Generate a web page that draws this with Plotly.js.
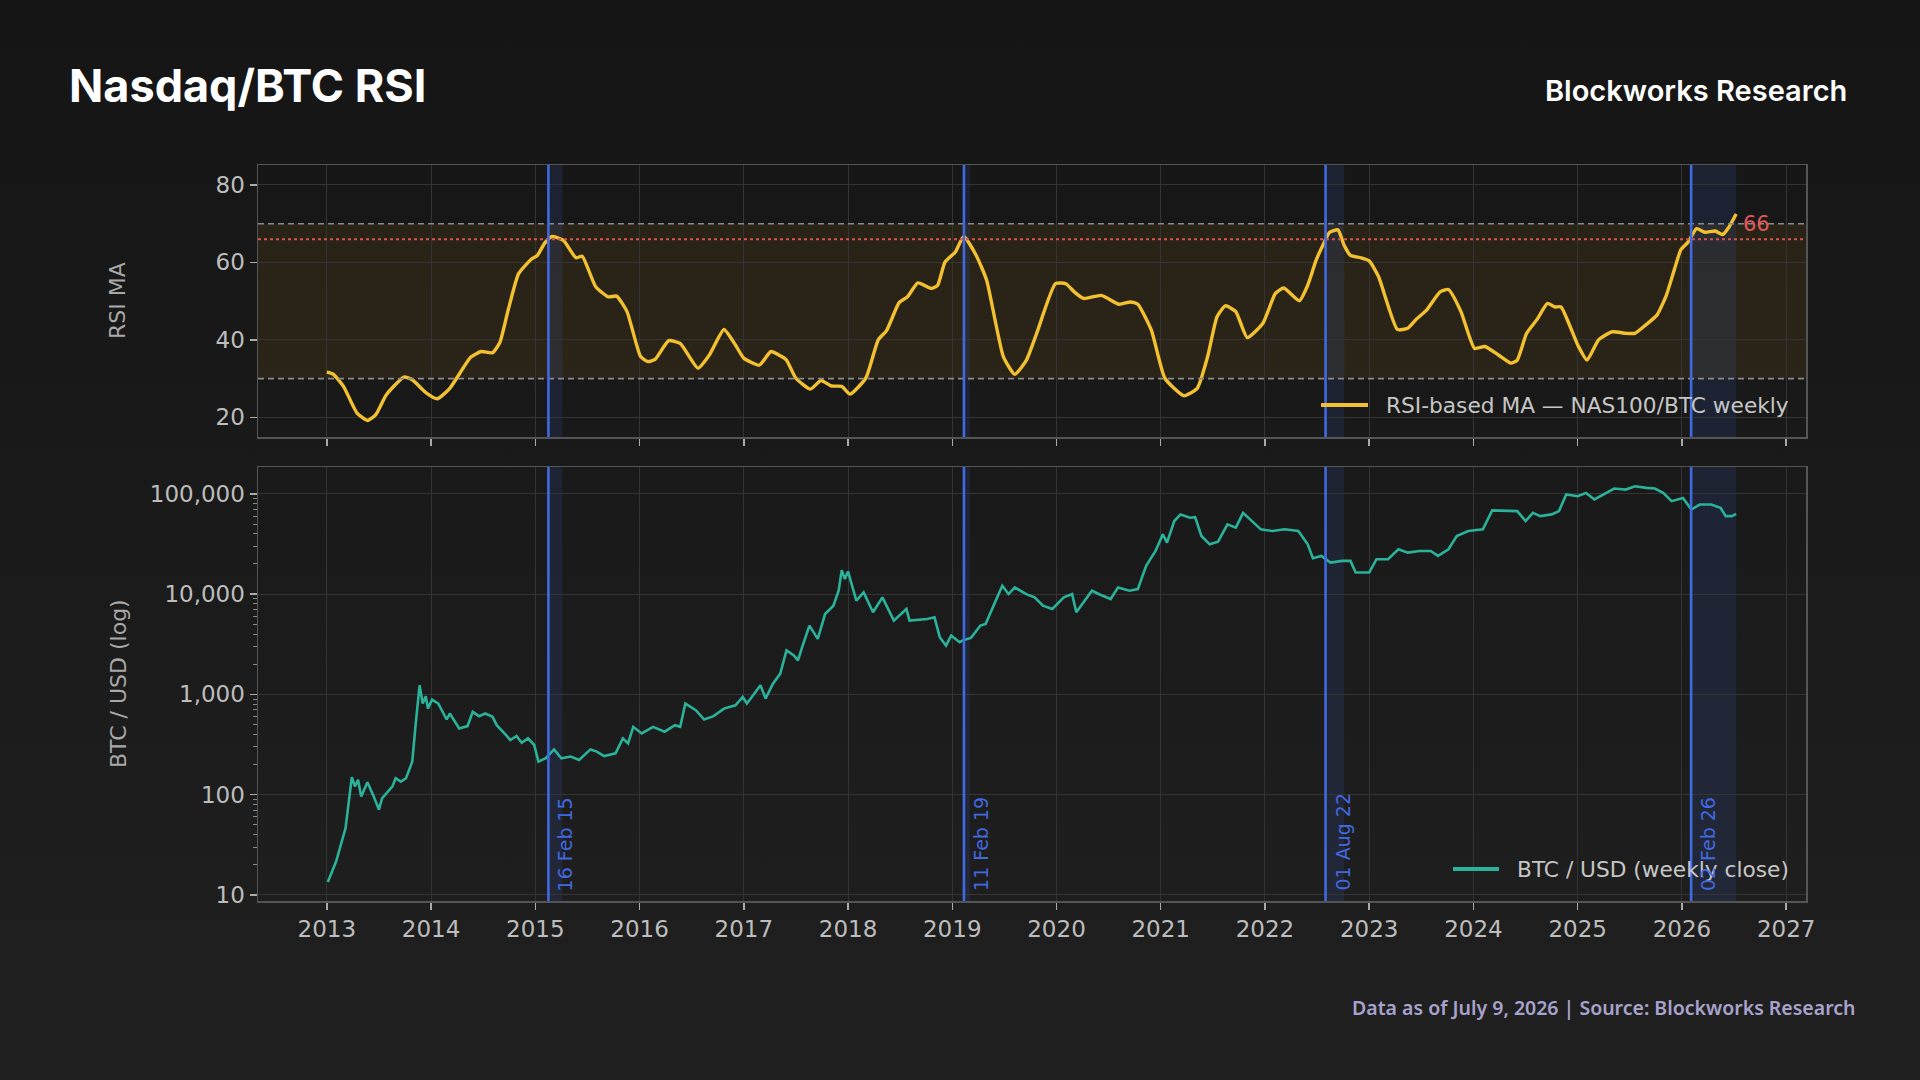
<!DOCTYPE html>
<html>
<head>
<meta charset="utf-8">
<script src="https://cdn.plot.ly/plotly-3.0.1.min.js"></script>
<style>
  html, body { margin: 0; padding: 0; }
  body { width: 1920px; height: 1080px; background: linear-gradient(180deg, #151515 0%, #1a1a1a 50%, #202020 100%); overflow: hidden; }
  #chart { width: 1920px; height: 1080px; }
</style>
</head>
<body>
<div id="chart"></div>
<script>
// ---------- DATA ----------
const yearTicks = [2013, 2014, 2015, 2016, 2017, 2018, 2019, 2020, 2021, 2022, 2023, 2024, 2025, 2026, 2027];

const rsiYears = [2013.00,2013.06,2013.16,2013.29,2013.39,2013.47,2013.57,2013.74,2013.82,2013.95,
  2014.06,2014.18,2014.38,2014.48,2014.59,2014.66,2014.74,2014.84,2014.97,2015.02,
  2015.09,2015.16,2015.27,2015.39,2015.45,2015.58,2015.70,2015.78,2015.88,2016.01,
  2016.08,2016.15,2016.28,2016.39,2016.56,2016.67,2016.81,2016.92,2017.00,2017.15,
  2017.26,2017.35,2017.41,2017.50,2017.64,2017.74,2017.84,2017.94,2018.02,2018.17,
  2018.29,2018.37,2018.49,2018.57,2018.67,2018.80,2018.86,2018.93,2019.03,2019.11,
  2019.23,2019.33,2019.49,2019.60,2019.71,2019.81,2019.99,2020.09,2020.17,2020.26,
  2020.43,2020.60,2020.71,2020.78,2020.91,2021.04,2021.22,2021.35,2021.45,2021.54,
  2021.62,2021.72,2021.83,2021.98,2022.10,2022.18,2022.33,2022.41,2022.49,2022.57,
  2022.62,2022.70,2022.76,2022.82,2022.92,2023.00,2023.09,2023.27,2023.37,2023.45,
  2023.55,2023.68,2023.76,2023.88,2024.01,2024.11,2024.24,2024.36,2024.42,2024.51,
  2024.61,2024.71,2024.78,2024.84,2025.00,2025.09,2025.20,2025.33,2025.46,2025.55,
  2025.65,2025.76,2025.85,2025.93,2025.99,2026.06,2026.14,2026.22,2026.32,2026.39,
  2026.45,2026.52];
const rsiValues = [31.7,31.2,28.0,21.1,19.2,20.7,25.8,30.4,29.7,26.4,
  24.8,27.5,35.5,37.0,36.7,39.3,47.7,57.1,61.0,61.8,
  65.0,66.7,65.7,61.2,61.6,53.7,51.1,51.3,47.3,35.7,
  34.4,35.0,39.8,39.1,32.7,36.1,42.7,38.7,35.3,33.5,
  37.0,35.9,34.8,30.1,27.3,29.5,28.1,28.0,26.0,30.1,
  40.0,42.4,49.6,51.1,54.7,53.3,54.1,60.1,62.7,66.7,
  61.8,55.4,35.7,31.1,34.7,41.7,54.5,54.5,52.4,50.7,
  51.5,49.2,49.8,49.2,42.5,30.1,25.6,27.5,35.7,46.0,
  48.8,47.3,40.6,44.3,52.0,53.4,50.1,54.1,60.5,65.3,
  67.8,68.4,64.4,61.8,61.2,60.4,56.3,42.7,43.0,45.3,
  47.7,52.4,53.0,47.3,37.8,38.3,36.1,34.0,34.8,41.7,
  45.3,49.4,48.5,48.5,38.7,34.8,40.0,42.1,41.7,41.7,
  43.8,46.4,51.5,58.4,63.3,65.3,68.7,67.8,68.1,67.2,
  69.1,72.5];

const btcYears = [2013.01,2013.09,2013.18,2013.24,2013.27,2013.30,2013.33,2013.39,2013.45,2013.50,
  2013.53,2013.63,2013.66,2013.71,2013.76,2013.82,2013.85,2013.89,2013.92,2013.95,
  2013.97,2014.01,2014.07,2014.15,2014.18,2014.27,2014.35,2014.40,2014.46,2014.52,
  2014.59,2014.63,2014.72,2014.76,2014.82,2014.87,2014.93,2014.99,2015.03,2015.10,
  2015.18,2015.25,2015.34,2015.42,2015.53,2015.59,2015.66,2015.77,2015.84,2015.89,
  2015.94,2016.02,2016.13,2016.24,2016.34,2016.39,2016.44,2016.54,2016.62,2016.71,
  2016.81,2016.92,2016.99,2017.03,2017.09,2017.16,2017.21,2017.28,2017.35,2017.41,
  2017.48,2017.52,2017.56,2017.63,2017.71,2017.78,2017.86,2017.91,2017.94,2017.97,
  2018.00,2018.08,2018.15,2018.24,2018.33,2018.44,2018.56,2018.59,2018.76,2018.83,
  2018.88,2018.94,2018.99,2019.07,2019.11,2019.18,2019.27,2019.32,2019.41,2019.48,
  2019.54,2019.60,2019.71,2019.79,2019.87,2019.96,2020.07,2020.15,2020.19,2020.26,
  2020.34,2020.42,2020.52,2020.59,2020.70,2020.78,2020.86,2020.95,2021.02,2021.06,
  2021.13,2021.19,2021.28,2021.33,2021.39,2021.47,2021.55,2021.64,2021.72,2021.79,
  2021.88,2021.96,2022.07,2022.19,2022.32,2022.41,2022.46,2022.54,2022.63,2022.74,
  2022.82,2022.87,2023.00,2023.07,2023.18,2023.28,2023.37,2023.48,2023.59,2023.66,
  2023.76,2023.84,2023.95,2024.09,2024.18,2024.31,2024.42,2024.50,2024.57,2024.64,
  2024.75,2024.82,2024.89,2025.00,2025.08,2025.16,2025.27,2025.35,2025.46,2025.55,
  2025.66,2025.74,2025.82,2025.90,2026.01,2026.09,2026.17,2026.28,2026.37,2026.42,
  2026.48,2026.52];
const btcPrices = [13.5,21.7,46.5,150,121,141,96,133,96,71,
  92,121,146,135,146,214,476,1233,811,959,
  722,889,811,562,645,458,483,670,607,645,
  598,494,393,351,385,330,365,313,214,231,
  283,231,240,222,283,269,243,259,365,325,
  475,408,475,425,494,475,811,697,562,607,
  722,780,944,811,982,1233,910,1282,1612,2744,
  2448,2183,2961,4859,3584,6336,7674,10813,17338,14125,
  16830,8606,10400,6590,9290,5445,7110,5445,5660,5875,
  3724,3076,3864,3318,3499,3664,4859,5047,8280,12134,
  10015,11670,10015,9290,7674,7110,9290,10015,6590,8280,
  10813,9860,8936,11670,10813,11220,19140,26980,39470,32650,
  53580,62370,57800,58650,38000,31400,33400,49650,46000,64700,
  53580,44300,42600,44300,42600,31400,22800,24050,20650,21480,
  21480,16440,16440,22300,22300,28000,25950,26980,26980,24050,
  28000,38000,42600,44300,68400,67300,67300,53580,64700,60000,
  62400,67300,98500,94800,102300,87900,102300,113000,110400,119200,
  114700,113000,102300,84600,91200,69800,78300,78300,72600,60000,
  60000,63200];

const eventYears  = [2015.126, 2019.112, 2022.581, 2026.088];
const eventLabels = ['16 Feb 15', '11 Feb 19', '01 Aug 22', '02 Feb 26'];
const spanEnds    = [2015.26, 2019.17, 2022.76, 2026.52];
const overbought = 70, oversold = 30, currentLevel = 66;
const priceTicks = [10, 100, 1000, 10000, 100000];
const priceTickText = ['10', '100', '1,000', '10,000', '100,000'];
const priceMinorTicks = [20,30,40,50,60,70,80,90, 200,300,400,500,600,700,800,900,
  2000,3000,4000,5000,6000,7000,8000,9000, 20000,30000,40000,50000,60000,70000,80000,90000, 200000];
const rsiLegendText = 'RSI-based MA — NAS100/BTC weekly';
const btcLegendText = 'BTC / USD (weekly close)';

// ---------- STYLE ----------
const W = 1920, H = 1080;
const px = v => v / W, py = v => 1 - v / H;
const xRange = [2012.34, 2027.19];
const tickFont = {family: 'DejaVu Sans', size: 23, color: '#bdbdbd'};
const gridC = '#343434', lineC = '#555555';
const blue = '#4169e1';
const rsiColor = '#f3c12f', btcColor = '#2ab39a';

const rsiTrace = {
  x: rsiYears, y: rsiValues, type: 'scatter', mode: 'lines', name: rsiLegendText,
  line: {color: rsiColor, width: 3.4, shape: 'spline', smoothing: 0.5},
  xaxis: 'x', yaxis: 'y', showlegend: false, hoverinfo: 'skip'
};
const btcTrace = {
  x: btcYears, y: btcPrices, type: 'scatter', mode: 'lines', name: btcLegendText,
  line: {color: btcColor, width: 2.6},
  xaxis: 'x2', yaxis: 'y2', showlegend: false, hoverinfo: 'skip'
};

const shapes = [];
shapes.push({type: 'rect', xref: 'x domain', yref: 'y', x0: 0, x1: 1, y0: oversold, y1: overbought,
  fillcolor: 'rgba(230,170,30,0.09)', line: {width: 0}, layer: 'below'});
[overbought, oversold].forEach(v => shapes.push({type: 'line', xref: 'x domain', yref: 'y', x0: 0, x1: 1, y0: v, y1: v,
  line: {color: '#8a8a8a', width: 1.6, dash: '6px,4px'}, layer: 'above'}));
shapes.push({type: 'line', xref: 'x domain', yref: 'y', x0: 0, x1: 1, y0: currentLevel, y1: currentLevel,
  line: {color: '#d9534f', width: 2, dash: 'dot'}, layer: 'above'});
[['x', 'y'], ['x2', 'y2']].forEach(([xa, ya]) => {
  eventYears.forEach((ev, i) => {
    shapes.push({type: 'rect', xref: xa, yref: ya + ' domain', x0: ev, x1: spanEnds[i], y0: 0, y1: 1,
      fillcolor: 'rgba(65,105,225,0.13)', line: {width: 0}, layer: 'below'});
    shapes.push({type: 'line', xref: xa, yref: ya + ' domain', x0: ev, x1: ev, y0: 0, y1: 1,
      line: {color: blue, width: 2.6}, layer: 'above'});
  });
});
// custom legend samples
shapes.push({type: 'line', xref: 'paper', yref: 'paper', x0: px(1321), x1: px(1368), y0: py(405), y1: py(405),
  line: {color: rsiColor, width: 4}, layer: 'above'});
shapes.push({type: 'line', xref: 'paper', yref: 'paper', x0: px(1453), x1: px(1499), y0: py(869), y1: py(869),
  line: {color: btcColor, width: 4}, layer: 'above'});

const annotations = [
  {text: '<b>Nasdaq/BTC RSI</b>', xref: 'paper', yref: 'paper', x: px(67), y: py(86), xanchor: 'left', yanchor: 'middle',
   showarrow: false, font: {family: 'Inter', size: 45, color: '#ffffff'}},
  {text: 'Blockworks Research', xref: 'paper', yref: 'paper', x: px(1849), y: py(90), xanchor: 'right', yanchor: 'middle',
   showarrow: false, font: {family: 'Inter', size: 29, color: '#ffffff', weight: 600}},
  {text: 'Data as of July 9, 2026 | Source: Blockworks Research', xref: 'paper', yref: 'paper', x: px(1858), y: py(1007),
   xanchor: 'right', yanchor: 'middle', showarrow: false, font: {family: 'Noto Sans', size: 19.5, color: '#a8a3cc', weight: 600}},
  {text: 'RSI MA', xref: 'paper', yref: 'paper', x: px(118), y: py(301), textangle: -90, xanchor: 'center', yanchor: 'middle',
   showarrow: false, font: {family: 'DejaVu Sans', size: 22, color: '#a8a8a8'}},
  {text: 'BTC / USD (log)', xref: 'paper', yref: 'paper', x: px(118), y: py(684), textangle: -90, xanchor: 'center', yanchor: 'middle',
   showarrow: false, font: {family: 'DejaVu Sans', size: 22, color: '#a8a8a8'}},
  {text: String(currentLevel), xref: 'x', yref: 'y', x: rsiYears[rsiYears.length - 1], y: currentLevel, xanchor: 'left', yanchor: 'bottom',
   xshift: 5, yshift: 1, showarrow: false, font: {family: 'DejaVu Sans', size: 21, color: '#e0585a'}},
  {text: rsiLegendText, xref: 'paper', yref: 'paper', x: px(1384), y: py(405), xanchor: 'left', yanchor: 'middle',
   showarrow: false, font: {family: 'DejaVu Sans', size: 21.7, color: '#c6c6c6'}},
  {text: btcLegendText, xref: 'paper', yref: 'paper', x: px(1515), y: py(869), xanchor: 'left', yanchor: 'middle',
   showarrow: false, font: {family: 'DejaVu Sans', size: 21.7, color: '#c6c6c6'}}
];
eventYears.forEach((ev, i) => annotations.push({
  text: eventLabels[i], xref: 'x2', yref: 'paper', x: ev, y: py(893), xanchor: 'center', yanchor: 'bottom',
  xshift: 17, textangle: -90, showarrow: false, font: {family: 'DejaVu Sans', size: 19, color: blue}
}));

const xCommon = {
  type: 'linear', range: xRange, tickvals: yearTicks, ticktext: yearTicks.map(String),
  showgrid: true, gridcolor: gridC, gridwidth: 1, zeroline: false,
  showline: true, linecolor: lineC, linewidth: 1.5, mirror: true,
  ticks: 'outside', ticklen: 7, tickwidth: 1.5, tickcolor: '#aaaaaa', tickfont: tickFont
};

const layout = {
  width: W, height: H,
  margin: {l: 0, r: 0, t: 0, b: 0},
  paper_bgcolor: 'rgba(0,0,0,0)', plot_bgcolor: 'rgba(0,0,0,0)',
  showlegend: false,
  xaxis: Object.assign({}, xCommon, {domain: [px(258), px(1806)], anchor: 'y', showticklabels: false}),
  yaxis: {domain: [py(437), py(165)], anchor: 'x', range: [14.93, 85.15], tickvals: [20, 40, 60, 80],
    showgrid: true, gridcolor: gridC, zeroline: false, showline: true, linecolor: lineC, linewidth: 1.5, mirror: true,
    ticks: 'outside', ticklen: 7, tickwidth: 1.5, tickcolor: '#aaaaaa', tickfont: tickFont},
  xaxis2: Object.assign({}, xCommon, {domain: [px(258), px(1806)], anchor: 'y2'}),
  yaxis2: {domain: [py(901), py(467)], anchor: 'x2', type: 'log', range: [0.94, 5.268],
    tickvals: priceTicks, ticktext: priceTickText,
    showgrid: true, gridcolor: gridC, zeroline: false, showline: true, linecolor: lineC, linewidth: 1.5, mirror: true,
    ticks: 'outside', ticklen: 7, tickwidth: 1.5, tickcolor: '#aaaaaa', tickfont: tickFont,
    minor: {tickvals: priceMinorTicks, ticks: 'outside', ticklen: 4, tickwidth: 1, tickcolor: '#888888', showgrid: false}},
  shapes: shapes,
  annotations: annotations
};

Plotly.newPlot('chart', [rsiTrace, btcTrace], layout, {staticPlot: true, displayModeBar: false});
</script>
</body>
</html>
